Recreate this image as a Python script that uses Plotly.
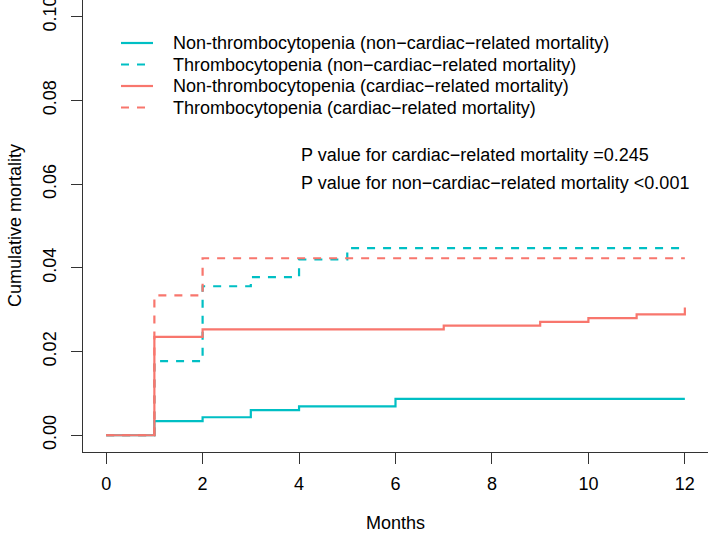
import plotly.graph_objects as go

# Data
months_nt_noncard = [0, 1, 2, 3, 4, 6, 12]
cum_nt_noncard = [0.0, 0.0034, 0.0043, 0.0060, 0.0069, 0.0087, 0.0087]

months_t_noncard = [0, 1, 2, 3, 4, 5, 12]
cum_t_noncard = [0.0, 0.0177, 0.0356, 0.0378, 0.0420, 0.0447, 0.0447]

months_nt_card = [0, 1, 2, 7, 9, 10, 11, 12]
cum_nt_card = [0.0, 0.0235, 0.0253, 0.0262, 0.0271, 0.0280, 0.0289, 0.0305]

months_t_card = [0, 1, 2, 12]
cum_t_card = [0.0, 0.0334, 0.0423, 0.0423]

series_names = [
    "Non-thrombocytopenia (non\u2212cardiac\u2212related mortality)",
    "Thrombocytopenia (non\u2212cardiac\u2212related mortality)",
    "Non-thrombocytopenia (cardiac\u2212related mortality)",
    "Thrombocytopenia (cardiac\u2212related mortality)",
]
x_ticks = [0, 2, 4, 6, 8, 10, 12]
y_ticks = [0.00, 0.02, 0.04, 0.06, 0.08, 0.10]
y_tick_text = ["0.00", "0.02", "0.04", "0.06", "0.08", "0.10"]
p_texts = [
    "P value for cardiac\u2212related mortality =0.245",
    "P value for non\u2212cardiac\u2212related mortality <0.001",
]

TEAL = "#00BFC4"
RED = "#F8766D"
FONT = "Liberation Sans, Arial, Helvetica, sans-serif"
FS = 18

W, H = 709, 535
ML, MR, MT, MB = 83, 1, 0, 83
pw, ph = W - ML - MR, H - MT - MB


def fx(px):
    return (px - ML) / pw


def fy(py):
    return 1 - (py - MT) / ph


fig = go.Figure()
specs = [
    (months_nt_noncard, cum_nt_noncard, TEAL, "solid"),
    (months_t_noncard, cum_t_noncard, TEAL, "8px,8px"),
    (months_nt_card, cum_nt_card, RED, "solid"),
    (months_t_card, cum_t_card, RED, "8px,8px"),
]
for (xs, ys, col, dash), name in zip(specs, series_names):
    fig.add_trace(go.Scatter(
        x=xs, y=ys, mode="lines", name=name, showlegend=False,
        line=dict(color=col, width=2.2, dash=dash, shape="hv"),
    ))

# manual legend (R-style, no box)
leg_rows = [43, 64.5, 86, 107.5]
for (xs, ys, col, dash), name, ry in zip(specs, series_names, leg_rows):
    fig.add_shape(type="line", xref="paper", yref="paper",
                  x0=fx(121), x1=fx(153), y0=fy(ry), y1=fy(ry),
                  line=dict(color=col, width=2.2, dash=dash))
    fig.add_annotation(x=fx(171), y=fy(ry), xref="paper", yref="paper",
                       text=name, showarrow=False, xanchor="left", yanchor="middle",
                       font=dict(family=FONT, size=FS, color="black"))

for i, t in enumerate(p_texts):
    fig.add_annotation(
        x=fx(299), y=fy(155 + i * 28), xref="paper", yref="paper",
        text=t, showarrow=False, xanchor="left", yanchor="middle",
        font=dict(family=FONT, size=FS, color="black"),
    )

# axis titles
fig.add_annotation(x=fx(395.5), y=fy(523), xref="paper", yref="paper",
                   text="Months", showarrow=False, xanchor="center", yanchor="middle",
                   font=dict(family=FONT, size=FS, color="black"))
fig.add_annotation(x=fx(15), y=fy(226), xref="paper", yref="paper",
                   text="Cumulative mortality", showarrow=False, textangle=-90,
                   xanchor="center", yanchor="middle",
                   font=dict(family=FONT, size=FS, color="black"))

fig.update_layout(
    width=W, height=H,
    margin=dict(l=ML, r=MR, t=MT, b=MB, autoexpand=False),
    paper_bgcolor="white", plot_bgcolor="white",
    font=dict(family=FONT, size=FS, color="black"),
    showlegend=False,
    xaxis=dict(
        range=[-0.48, 12.48], tickmode="array", tickvals=x_ticks,
        ticks="outside", ticklen=11, tickwidth=1, tickcolor="#333333",
        showline=True, linecolor="#333333", linewidth=1.2,
        showgrid=False, zeroline=False, automargin=False,
        ticklabelstandoff=4, ticklabeloverflow="allow",
        tickfont=dict(family=FONT, size=FS, color="black"),
    ),
    yaxis=dict(
        range=[-0.004, 0.104], tickmode="array", tickvals=y_ticks, ticktext=y_tick_text,
        ticks="outside", ticklen=11, tickwidth=1, tickcolor="#333333",
        showline=True, linecolor="#333333", linewidth=1.2,
        showgrid=False, zeroline=False, tickangle=-90, automargin=False,
        ticklabelstandoff=8, ticklabeloverflow="allow",
        tickfont=dict(family=FONT, size=FS, color="black"),
    ),
)

fig.write_html(
    "out.html",
    config={"displayModeBar": False},
    post_script="document.body.style.margin='0';document.body.style.overflow='hidden';",
)
